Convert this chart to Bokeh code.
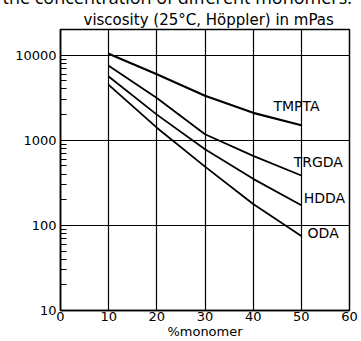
from bokeh.plotting import figure
from bokeh.models import FixedTicker, PrintfTickFormatter, Label, Title
from bokeh.embed import file_html
from bokeh.resources import INLINE

# ---- data ----
monomer_pct = [10, 20, 30, 40, 50]
series_names = ["TMPTA", "TRGDA", "HDDA", "ODA"]
tmpta = [10400, 5950, 3340, 2100, 1500]
trgda = [7500, 3130, 1175, 656, 385]
hdda = [5600, 2000, 785, 352, 172]
oda = [4480, 1405, 490, 178, 75]
x_ticks = [0, 10, 20, 30, 40, 50, 60]
y_ticks = [10, 100, 1000, 10000]
y_minor = [20, 30, 40, 50, 60, 70, 80, 90,
           200, 300, 400, 500, 600, 700, 800, 900,
           2000, 3000, 4000, 5000, 6000, 7000, 8000, 9000, 20000]
title_text = "viscosity (25°C, Höppler) in mPas"
top_text = "the concentration of different monomers."
x_label = "%monomer"

FONT = "DejaVu Sans"
SHIFT = 18  # part of the caption line lies above the visible window

p = figure(width=361, height=341 + SHIFT, output_backend="svg", toolbar_location=None,
           x_range=(0, 60), y_range=(10, 20000), y_axis_type="log",
           min_border_left=60, min_border_right=12, min_border_top=0,
           min_border_bottom=0)
p.styles = {"margin-top": f"-{SHIFT}px"}
p.background_fill_color = "white"
p.border_fill_color = "white"
p.outline_line_color = "black"
p.outline_line_width = 1.5

# titles (closest to the frame first)
t1 = Title(text=title_text, align="left", offset=23, text_font=FONT,
           text_font_size="15px", text_font_style="normal", text_color="black",
           standoff=1)
t2 = Title(text=top_text, align="left", offset=-58, text_font="Open Sans",
           text_font_size="18px", text_font_style="normal", text_color="black",
           standoff=0, text_line_height=0.4)
p.add_layout(t1, "above")
p.add_layout(t2, "above")

# axes
p.xaxis.ticker = FixedTicker(ticks=x_ticks)
p.xaxis.major_tick_out = 0
p.xaxis.major_tick_in = 0
p.xaxis.minor_tick_out = 0
p.xaxis.minor_tick_in = 0
p.xaxis.axis_line_color = "black"
p.xaxis.axis_line_width = 1.5
p.xaxis.major_label_text_font = FONT
p.xaxis.major_label_text_font_size = "13px"
p.xaxis.major_label_text_color = "black"
p.xaxis.major_label_standoff = 1
p.xaxis.axis_label = x_label
p.xaxis.axis_label_text_font = FONT
p.xaxis.axis_label_text_font_size = "13px"
p.xaxis.axis_label_text_font_style = "normal"
p.xaxis.axis_label_text_color = "black"
p.xaxis.axis_label_standoff = 0

p.yaxis.ticker = FixedTicker(ticks=y_ticks, minor_ticks=y_minor)
p.yaxis.formatter = PrintfTickFormatter(format="%d")
p.yaxis.major_tick_out = 0
p.yaxis.major_tick_in = 7
p.yaxis.minor_tick_out = 0
p.yaxis.minor_tick_in = 6
p.yaxis.major_tick_line_color = "black"
p.yaxis.minor_tick_line_color = "black"
p.yaxis.major_tick_line_width = 1.2
p.yaxis.minor_tick_line_width = 1.2
p.yaxis.axis_line_color = "black"
p.yaxis.axis_line_width = 1.5
p.yaxis.major_label_text_font = FONT
p.yaxis.major_label_text_font_size = "13px"
p.yaxis.major_label_text_color = "black"
p.yaxis.major_label_standoff = 4

# grid
p.xgrid.ticker = FixedTicker(ticks=x_ticks)
p.ygrid.ticker = FixedTicker(ticks=y_ticks)
for g in (p.xgrid, p.ygrid):
    g.grid_line_color = "black"
    g.grid_line_width = 1.2
    g.grid_line_alpha = 1.0

# curves
all_series = [tmpta, trgda, hdda, oda]
widths = [2.2, 1.8, 1.8, 1.8]
for vals, w in zip(all_series, widths):
    p.line(monomer_pct, vals, line_color="black", line_width=w)

# series labels
label_pos = [(44.2, 2550), (48.4, 555), (50.5, 210), (51.3, 82)]
for name, (lx, ly) in zip(series_names, label_pos):
    p.add_layout(Label(x=lx, y=ly, text=name, text_font=FONT,
                       text_font_size="14px", text_color="black",
                       text_baseline="middle", text_align="left"))

open("out.html", "w").write(file_html(p, INLINE))
